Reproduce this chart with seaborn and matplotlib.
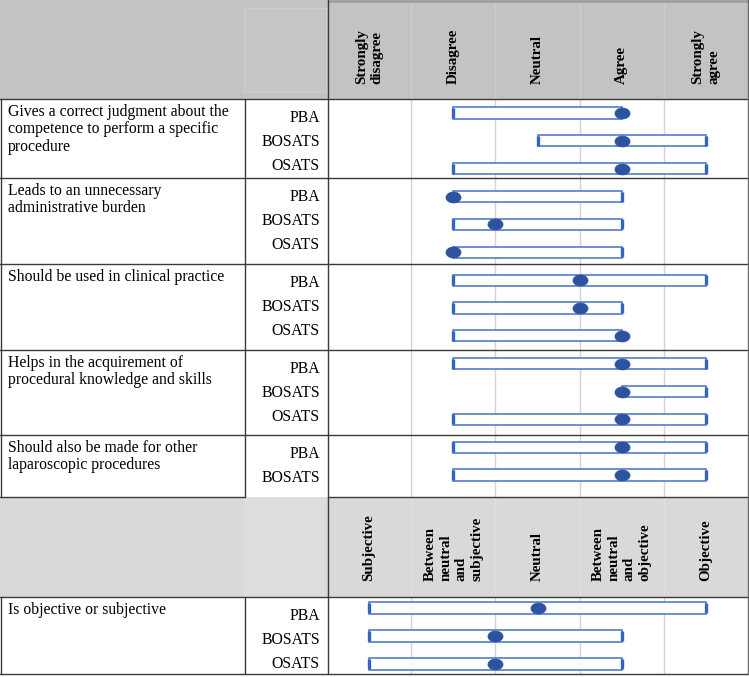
import numpy as np
import matplotlib
matplotlib.use("Agg")
import matplotlib.pyplot as plt
import seaborn as sns
from matplotlib.lines import Line2D
from matplotlib.patches import Rectangle
from matplotlib.path import Path
from matplotlib.transforms import Affine2D

# --- data ---------------------------------------------------------------
agree_levels = ["Strongly\ndisagree", "Disagree", "Neutral", "Agree", "Strongly\nagree"]
objective_levels = ["Subjective", "Between\nneutral\nand\nsubjective", "Neutral",
                    "Between\nneutral\nand\nobjective", "Objective"]

questions = [
    "Gives a correct judgment about the\ncompetence to perform a specific\nprocedure",
    "Leads to an unnecessary\nadministrative burden",
    "Should be used in clinical practice",
    "Helps in the acquirement of\nprocedural knowledge and skills",
    "Should also be made for other\nlaparoscopic procedures",
]
question_methods = [
    ["PBA", "BOSATS", "OSATS"],
    ["PBA", "BOSATS", "OSATS"],
    ["PBA", "BOSATS", "OSATS"],
    ["PBA", "BOSATS", "OSATS"],
    ["PBA", "BOSATS"],
]
# 1 = strongly disagree ... 5 = strongly agree, one value per row
agree_low = [2, 3, 2, 2, 2, 2, 2, 2, 2, 2, 4, 2, 2, 2]
agree_high = [4, 5, 5, 4, 4, 4, 5, 4, 4, 5, 5, 5, 5, 5]
agree_median = [4, 4, 4, 2, 2.5, 2, 3.5, 3.5, 4, 4, 4, 4, 4, 4]

objective_question = "Is objective or subjective"
objective_methods = ["PBA", "BOSATS", "OSATS"]
objective_low = [1, 1, 1]
objective_high = [5, 4, 4]
objective_median = [3, 2.5, 2.5]

# --- style --------------------------------------------------------------
sns.set_theme(style="white")
plt.rcParams['font.family'] = ['Liberation Serif', 'DejaVu Serif']
plt.rcParams['text.color'] = 'black'

W, H = 749, 677
fig = plt.figure(figsize=(W / 100, H / 100), dpi=100)
fig.patch.set_facecolor("white")

BAR_EDGE = "#4472C4"
CAP_COL = "#3563C0"
DOT_COL = "#2C52A0"
GRID_COL = "#d3d3d3"
LINE_COL = "#3a3a3a"

# table geometry in pixels
x_q, x_m, x_c, x_r = 0, 245, 328, 748
head1 = (0, 99)
sections = [99, 178, 264, 350, 435, 497]
head2 = (497, 597)
sec6 = (597, 674)


def fx(x):
    return x / W


def fy(y):
    return 1 - y / H


def hline(y, x0, x1, color=LINE_COL, lw=1.0):
    fig.add_artist(Line2D([fx(x0), fx(x1)], [fy(y), fy(y)], transform=fig.transFigure,
                          color=color, lw=lw, zorder=5))


def vline(x, y0, y1, color=LINE_COL, lw=1.0):
    fig.add_artist(Line2D([fx(x), fx(x)], [fy(y0), fy(y1)], transform=fig.transFigure,
                          color=color, lw=lw, zorder=5))


def rect(x0, y0, x1, y1, fc, ec="none", lw=0):
    fig.add_artist(Rectangle((fx(x0), fy(y1)), fx(x1) - fx(x0), fy(y0) - fy(y1),
                             transform=fig.transFigure, facecolor=fc, edgecolor=ec,
                             lw=lw, zorder=-2))


# header backgrounds (behind the axes so the column labels stay visible)
rect(0, head1[0], W, head1[1], "#c3c3c3")
rect(244, 8, 326, 92, "#c6c6c6", ec="#cdcdcd", lw=0.8)
rect(0, head2[0], W, head2[1], "#d9d9d9")
rect(244, head2[0], 326, head2[1], "#dddddd")

# ellipse marker for the medians
ellipse = Path.unit_circle().transformed(Affine2D().scale(1.38, 1.0))


def draw_panel(ax, low, high, median, levels, label_offset, head_px, ax_px):
    low = np.asarray(low, float)
    high = np.asarray(high, float)
    median = np.asarray(median, float)
    rows = np.arange(len(low))
    ax.set_facecolor("none")
    for b in np.arange(len(levels) - 1) + 1.5:
        ax.axvline(b, color=GRID_COL, lw=1.0, zorder=0)
        # faint, slightly lighter continuation of the column lines through the header
        ax.axvline(b, ymin=1, ymax=1 + head_px / ax_px, color="white", alpha=0.18,
                   lw=1.0, zorder=0, clip_on=False)
    ax.barh(rows, high - low, left=low, height=0.4, color="white",
            edgecolor=BAR_EDGE, linewidth=1.1, zorder=2)
    caps_x = np.concatenate([low, high])
    caps_y = np.concatenate([rows, rows])
    sns.scatterplot(x=caps_x, y=caps_y, ax=ax, marker="|", s=45, color=CAP_COL,
                    linewidth=2.4, zorder=3, legend=False)
    sns.scatterplot(x=median, y=rows, ax=ax, marker=ellipse, s=118, color=DOT_COL,
                    edgecolor=DOT_COL, linewidth=0.5, zorder=4, legend=False)
    ax.set_xlim(0.5, len(levels) + 0.5)
    ax.set_xticks([])
    ax.set_yticks([])
    ax.set_xlabel("")
    ax.set_ylabel("")
    for s in ax.spines.values():
        s.set_visible(False)
    for i, lab in enumerate(levels):
        ax.annotate(lab, xy=(i + 1, 1), xycoords=("data", "axes fraction"),
                    xytext=(0, label_offset), textcoords="offset points",
                    rotation=90, ha="center", va="bottom", multialignment="left",
                    fontsize=10.8, fontweight="bold", linespacing=1.25,
                    color="black", annotation_clip=False)


# panel for the agreement questions
top, bot = sections[0], sections[-1]
pitch = 27.85
first = 113
ax1 = fig.add_axes([fx(x_c - 1), fy(bot), fx(x_r) - fx(x_c - 1), fy(top) - fy(bot)])
draw_panel(ax1, agree_low, agree_high, agree_median, agree_levels, 10.5,
           head1[1] - head1[0] - 2, bot - top)
ax1.set_ylim((bot - first) / pitch, (top - first) / pitch)

# panel for objective / subjective
top6, bot6 = sec6
first6 = 608
ax2 = fig.add_axes([fx(x_c - 1), fy(bot6), fx(x_r) - fx(x_c - 1), fy(top6) - fy(bot6)])
draw_panel(ax2, objective_low, objective_high, objective_median, objective_levels, 11.5,
           head2[1] - head2[0], bot6 - top6)
ax2.set_ylim((bot6 - first6) / 28, (top6 - first6) / 28)

# table text
all_q = questions + [objective_question]
all_m = question_methods + [objective_methods]
all_tops = sections[:-1] + [sec6[0]]
for q, ms, t in zip(all_q, all_m, all_tops):
    fig.text(fx(8), fy(t + 5), q, ha="left", va="top", fontsize=11.3, linespacing=1.12)
    for k, m in enumerate(ms):
        fig.text(fx(320), fy(t + 19 + 23.8 * k), m, ha="right", va="center", fontsize=11.3)

# table lines
hline(0.8, x_c, W, color="#9a9a9a", lw=1.8)
for y in sections[:-1]:
    hline(y, 0, W)
hline(sections[-1], 0, x_m)
hline(sections[-1], x_c, W)
hline(sec6[0], 0, W)
hline(sec6[1], 0, W)
vline(0.5, sections[0], sections[-1])
vline(0.5, sec6[0], sec6[1])
vline(x_m, sections[0], sections[-1])
vline(x_m, sec6[0], sec6[1])
vline(x_c, 0, sec6[1])
vline(x_r, 0, sec6[1], color="#6a6a6a")

fig.savefig("out.png", dpi=100)
